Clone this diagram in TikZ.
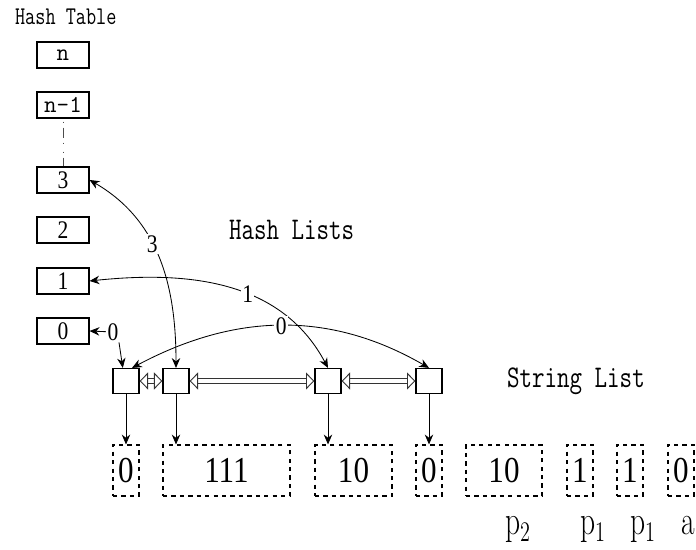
\documentclass[tikz,border=0pt]{standalone}
\usepackage{fontspec}
\usepackage{tikz}
\usetikzlibrary{positioning}
\usetikzlibrary{arrows.meta}
\newfontfamily\cellfont{Liberation Serif}[FakeStretch=0.85]
\newcommand{\tall}[2][1.3]{\scalebox{1}[#1]{#2}}% narrow, tall lettering
\tikzset{
  hashcell/.style = {draw, thick, minimum width=1.3cm, minimum height=0.65cm,
    inner sep=0pt, font=\cellfont\fontsize{18}{18}\selectfont},% slot of the table
  listnode/.style = {draw, thick, minimum width=0.65cm,
    minimum height=0.625cm, inner sep=0pt},% element of a list
  strcell/.style = {draw, dashed, thick, minimum height=1.275cm,
    inner sep=0pt, font=\cellfont\fontsize{26}{26}\selectfont},% piece of the string
  title/.style = {anchor=west, font=\ttfamily\fontsize{17.28}{17.28}\selectfont},
  tag/.style = {fill=white, inner sep=1pt,
    font=\cellfont\fontsize{18}{18}\selectfont},% number on a link
  dlink/.style = {draw=black!80, line width=0.7pt, double, double distance=2.4pt,
    {Triangle[open,length=6pt,width=12pt]}-{Triangle[open,length=6pt,width=12pt]}},
  strlabel/.style = {anchor=base west, font=\fontsize{21}{21}\selectfont}
}

\begin{document}
\begin{tikzpicture}[x=0.025cm, y=0.025cm, semithick,
  >={Stealth[length=7pt,width=6pt]}]
\useasboundingbox (0,0) rectangle (696,550);
\node[title] (httitle) at (10,533) {\scalebox{0.81}[1.05]{Hash Table}};
% table slots
\node[hashcell, font=\ttfamily\fontsize{17.28}{17.28}\selectfont] (hn) at (63,495) {n};
\node[hashcell, font=\ttfamily\fontsize{17.28}{17.28}\selectfont] (hn1) at (63,445) {n-1};
\foreach \i/\y in {3/370,2/320,1/269,0/219}
  \node[hashcell] (h\i) at (63,\y) {\i};
\draw[black!70, thin, dash pattern=on 0pt off 2.1pt on 0.7pt off 3.6pt on 7.1pt off 3.6pt
  on 0.7pt off 5.7pt on 0.7pt off 3.6pt on 9pt] (hn1.south) -- (h3.north);

\node[title] (hltitle) at (224,320) {\tall{Hash Lists}};
\node[title] (sltitle) at (502,169) {\tall{String List}};

% list elements and their links
\foreach \i/\x in {1/126,2/176,3/328,4/429}
  \node[listnode] (s\i) at (\x,169) {};
\draw[dlink] (s1) -- (s2);
\draw[dlink] (s2) -- (s3);
\draw[dlink] (s3) -- (s4);

% the string
\node[strcell, minimum width=0.65cm] (c1) at (126,79.5) {0};
\node[strcell, minimum width=3.175cm] (c2) at (226.5,79.5) {111};
\node[strcell, minimum width=1.925cm] (c3) at (353.5,79.5) {10};
\node[strcell, minimum width=0.65cm] (c4) at (429,79.5) {0};
\node[strcell, minimum width=1.9cm] (c5) at (504,79.5) {10};
\node[strcell, minimum width=0.65cm] (c6) at (580,79.5) {1};
\node[strcell, minimum width=0.65cm] (c7) at (630,79.5) {1};
\node[strcell, minimum width=0.65cm] (c8) at (681,79.5) {0};
\foreach \i in {1,...,4}
  \draw[->] (s\i.south) -- (s\i.south |- c\i.north);

\node[strlabel] (pc5) at (500,15) {\tall[1.4]{$\mathrm{p}_2$}};
\node[strlabel] (pc6) at (575,15) {\tall[1.4]{$\mathrm{p}_1$}};
\node[strlabel] (pc7) at (625,15) {\tall[1.4]{$\mathrm{p}_1$}};
\node[strlabel] (pc8) at (676,15) {\tall[1.4]{a}};

% slots to lists
\draw[<->] (h3.east) to[out=-30,in=90] node[tag,pos=0.42] {3} (s2.north);
\draw[<->] (h1.east) to[out=6,in=118] node[tag,pos=0.58] {1} (s3.north);
\node[tag] (z0) at (113,218) {0};
\draw[->] (z0) -- (h0.east);
\draw[->] (z0.-60) -- ([xshift=-0.08cm]s1.north);
\draw[<->] ([xshift=0.15cm]s1.north) to[out=28,in=150] node[tag] {0} (s4.north);
\end{tikzpicture}
\end{document}
